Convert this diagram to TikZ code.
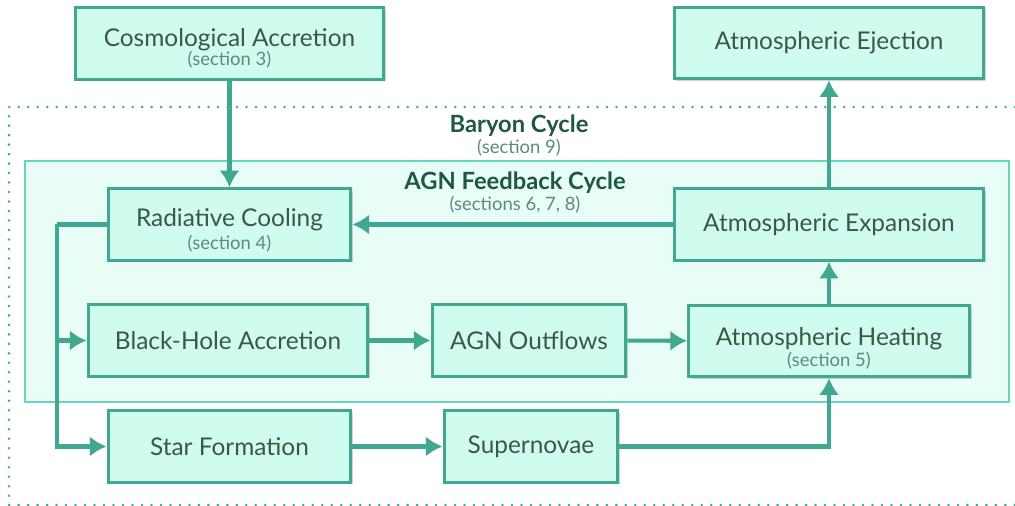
\documentclass[tikz,border=0pt]{standalone}
\usepackage{fontspec}
\setmainfont{Lato}
\usepackage{tikz}
\usetikzlibrary{arrows.meta,positioning,shadows}

\definecolor{boxfill}{HTML}{CFFCEF}
\definecolor{boxline}{HTML}{3FA88F}
\definecolor{cyclefill}{HTML}{E8FDF6}
\definecolor{cycleline}{HTML}{66D6BE}
\definecolor{maintext}{HTML}{3A5747}
\definecolor{subtext}{HTML}{5C8A7E}
\definecolor{headtext}{HTML}{1F5747}

\newcommand{\sect}[1]{{\mdseries\fontsize{10.5}{11}\selectfont\color{subtext}#1}}

\begin{document}
\begin{tikzpicture}[
    x=0.02cm, y=-0.02cm,
    >={Latex[length=9.5pt,width=11.5pt]},
    font=\fontsize{13.9}{15}\selectfont,
    stage/.style={
		rectangle,
		draw=boxline,
		line width=1.7pt,
		fill=boxfill,
		text=maintext,
		text centered,
		minimum height=1.43cm,
		inner sep=0pt,
		drop shadow={shadow xshift=1.2pt, shadow yshift=-1.2pt, opacity=0.35, fill=black!50}
	},
	flow/.style={
		draw=boxline,
		line width=2.3pt,
		->
	},
	heading/.style={
		text=headtext,
		font=\fontsize{13.5}{15}\selectfont\bfseries,
		align=center
	}
  ]
  \useasboundingbox (0,0) rectangle (1015,506);

    % the two cycles behind the blocks
  \draw [boxline, line width=1.6pt, dash pattern=on 0pt off 5.4pt, line cap=round]
    (1015,107) -- (9,107) -- (9,505) -- (1015,505);
  \draw [cycleline, line width=1.5pt, fill=cyclefill] (25,161) rectangle (1009,402);

  \node [heading] (baryon) at (519,136)
 {Baryon Cycle\\[-3pt]\sect{(section 9)}};
  \node [heading] (agncycle) at (515,193)
 {AGN Feedback Cycle\\[-3pt]\sect{(sections 6, 7, 8)}};

    % blocks
  \node [stage, minimum width=6.18cm] (cosmo) at (229.5,43.5)
 {\begin{tabular}{c}
  \rule{0pt}{18.7pt}Cosmological Accretion\\[-4.7pt]
  \sect{(section 3)}
 \end{tabular}};

  \node [stage, minimum width=6.2cm] (ejection) at (829,43)
 {Atmospheric Ejection};

  \node [stage, minimum width=4.86cm] (cooling) at (229.5,224.5)
 {\begin{tabular}{c}
  \rule{0pt}{19.8pt}Radiative Cooling\\[-2pt]
  \sect{(section 4)}
 \end{tabular}};

  \node [stage, minimum width=6.18cm] (expansion) at (829,224.5)
 {Atmospheric Expansion};

  \node [stage, minimum width=5.6cm] (bhacc) at (228,340.5)
 {Black-Hole Accretion};

  \node [stage, minimum width=3.88cm] (outflows) at (529,340.5)
 {AGN Outflows};

  \node [stage, minimum width=5.62cm] (heating) at (829,341)
 {\begin{tabular}{c}
  \rule{0pt}{22pt}Atmospheric Heating\\[-3.1pt]
  \sect{(section 5)}
 \end{tabular}};

  \node [stage, minimum width=4.86cm] (starform) at (229.5,446.5)
 {Star Formation};

  \node [stage, minimum width=3.48cm] (supernovae) at (531,446.5)
 {Supernovae};

  \coordinate (split) at (57,224.5);
  \coordinate (branch) at (split |- bhacc);

    % connectors
 \draw [flow] (cosmo) -- (cooling);
 \draw [flow] (expansion) -- (cooling);
 \draw [flow, -] (cooling.west) -- (split);
 \draw [flow] (split) |- (starform);
 \draw [flow] (branch) -- (bhacc);
 \draw [flow] (bhacc) -- (outflows);
 \draw [flow] (outflows) -- (heating);
 \draw [flow] (starform) -- (supernovae);
 \draw [flow] (supernovae) -| (heating);
 \draw [flow] (heating) -- (expansion);
 \draw [flow] (expansion) -- (ejection);

\end{tikzpicture}
\end{document}
